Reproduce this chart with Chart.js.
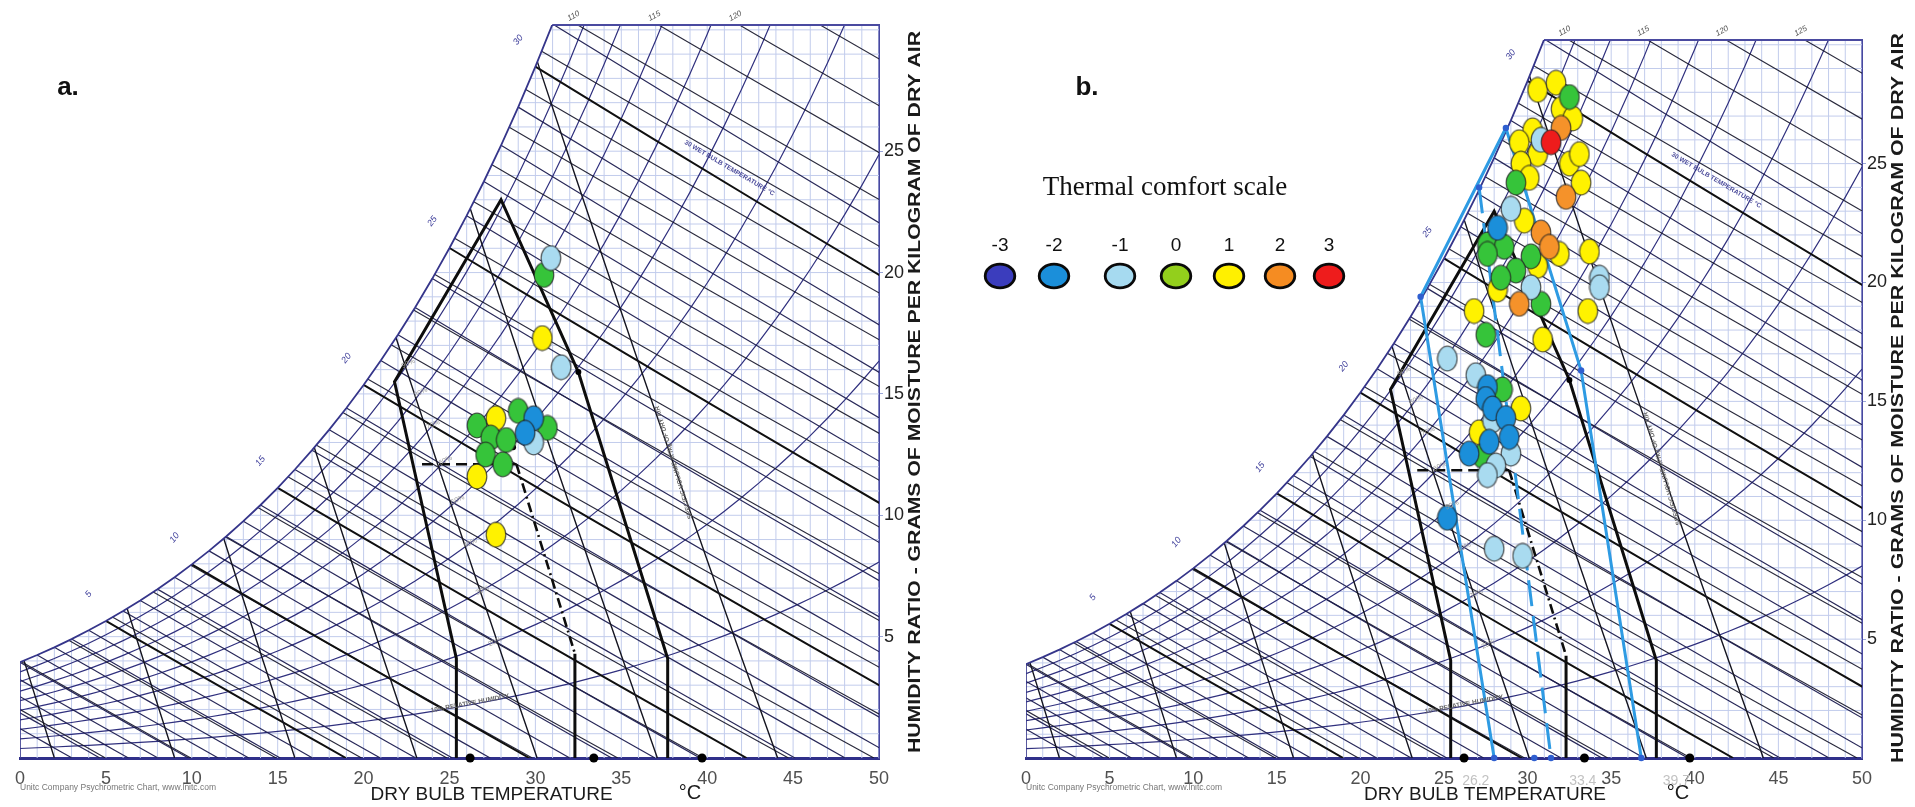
<!DOCTYPE html>
<html><head><meta charset="utf-8">
<script src="https://cdn.jsdelivr.net/npm/chart.js@4.4.1/dist/chart.umd.min.js"></script>
<style>
html,body{margin:0;padding:0;background:#fff;width:1915px;height:807px;overflow:hidden;}
#wa{position:absolute;left:0;top:0;width:957px;height:807px;}
#wb{position:absolute;left:957px;top:0;width:958px;height:807px;}
canvas{display:block}
</style></head><body>
<div id="wa"><canvas id="ca"></canvas></div>
<div id="wb"><canvas id="cb"></canvas></div>
<script>
// ---------------- chart template values ----------------
const PRESSURE_KPA = 97;
const Y_MAX = 30.2;
const xTickValues = [0,5,10,15,20,25,30,35,40,45,50];
const yTickValues = [5,10,15,20,25];
const satTemps = [-8,-7,-6,-5,-4,-3,-2,-1,0,1,2,3,4,5,6,7,8,9,10,11,12,13,14,15,16,17,18,19,20,21,22,23,24,25,26,27,28,29,30,31,32,33,34,35,36,37,38,39,40,41,42,43,44,45,46,47,48,49,50];
const satPressure = [0.3102,0.3376,0.3685,0.4017,0.4375,0.4760,0.5176,0.5626,0.6112,0.6571,0.7060,0.7581,0.8135,0.8726,0.9354,1.0021,1.0730,1.1482,1.2282,1.3129,1.4028,1.4981,1.5989,1.7057,1.8188,1.9383,2.0647,2.1982,2.3392,2.4881,2.6452,2.8109,2.9856,3.1697,3.3637,3.5679,3.7829,4.0092,4.2471,4.4973,4.7603,5.0367,5.3269,5.6317,5.9517,6.2874,6.6397,7.0091,7.3965,7.8026,8.2280,8.6736,9.1402,9.6287,10.140,10.674,11.233,11.816,12.426];
const rhLevels = [10,20,30,40,50,60,70,80,90];
const wetBulbLevels = [-4,-3,-2,-1,0,1,2,3,4,5,6,7,8,9,10,11,12,13,14,15,16,17,18,19,20,21,22,23,24,25,26,27,28,29,30,31];
const wetBulbBold = [5,10,15,20,25,30];
const wetBulbLabels = [5,10,15,20,25,30];
const enthalpyLevels = [5,10,15,20,25,30,35,40,45,50,55,60,65,70,75,80,85,90,95,100,105,110,115,120,125];
const volumeBaseTemps = [2.0,9.0,16.0,23.1,30.1,37.1,44.1];
const gridTemps = [0,1,2,3,4,5,6,7,8,9,10,11,12,13,14,15,16,17,18,19,20,21,22,23,24,25,26,27,28,29,30,31,32,33,34,35,36,37,38,39,40,41,42,43,44,45,46,47,48,49,50];
const gridHumidity = [1,2,3,4,5,6,7,8,9,10,11,12,13,14,15,16,17,18,19,20,21,22,23,24,25,26,27,28,29,30];
const rhLabelLevels = [90,80,70,60,50,40,30,20];
const enthalpyLabelsA = [110,115,120];
const enthalpyLabelsB = [110,115,120,125];

// ---------------- comfort zone overlay (both panels) ----------------
const zoneOuterT = [25.4,25.4,21.8,28.0,32.5,37.7,37.7];
const zoneOuterW = [0,4.1,15.5,23.0,15.9,4.1,0];
const zoneDashT = [23.4,28.9];
const zoneDashW = [12.1,12.1];
const zoneSlantT = [28.9,32.3];
const zoneSlantW = [12.1,4.3];
const zoneFootT = [32.3,32.3];
const zoneFootW = [4.3,0];
const zoneDotsT = [26.2,33.4,39.7];
const zoneDotsW = [0,0,0];
const zoneSmallDotsT = [28.7,32.5];
const zoneSmallDotsW = [12.8,15.9];

// ---------------- panel b blue overlay ----------------
const blueLeftT = [28.0,23.6,28.7];
const blueLeftW = [0,19.4,26.5];
const blueRightT = [28.7,33.2,36.8];
const blueRightW = [26.5,16.3,0];
const blueMidT = [27.1,31.4];
const blueMidW = [24.0,0];
const blueDotsT = [23.6,27.1,28.7,33.2,28.0,30.4,31.4,36.8];
const blueDotsW = [19.4,24.0,26.5,16.3,0,0,0,0];
const limitLabels = ['26.2','33.4','39.7'];
const limitLabelT = [26.9,33.3,38.9];

// ---------------- thermal votes, panel a ----------------
const aColdT = [29.9,29.4];            const aColdW = [14.0,13.4];
const aCoolT = [30.9,31.5,29.9];       const aCoolW = [20.6,16.1,13.0];
const aNeutralT = [30.5,26.6,29.0,30.7,27.4,28.3,27.1,28.1];
const aNeutralW = [19.9,13.7,14.3,13.6,13.2,13.1,12.5,12.1];
const aWarmT = [30.4,27.7,26.6,27.7];  const aWarmW = [17.3,14.0,11.6,9.2];

// ---------------- thermal votes, panel b ----------------
const bColdT = [28.2,27.6,27.5,27.9,28.7,28.9,27.7,26.5,25.2];
const bColdW = [22.3,15.6,15.1,14.7,14.3,13.5,13.3,12.8,10.1];
const bCoolT = [30.8,29.0,30.2,34.3,34.3,25.2,26.9,27.9,29.0,28.1,27.6,28.0,29.7];
const bCoolW = [26.0,23.1,19.8,20.2,19.8,16.8,16.1,14.2,12.8,12.3,11.9,8.8,8.5];
const bNeutralT = [32.5,29.3,27.6,28.6,30.2,27.6,29.3,28.4,30.8,27.5,28.5,27.3];
const bNeutralW = [27.8,24.2,21.6,21.5,21.1,21.2,20.5,20.2,19.1,17.8,15.5,12.7];
const bWarmT = [30.6,31.7,32.0,32.7,30.3,29.5,30.6,32.5,33.1,29.6,30.1,33.2,29.8,31.9,33.7,30.6,28.2,26.8,33.6,30.9,29.6,27.1];
const bWarmW = [28.1,28.4,27.3,26.9,26.4,25.9,25.4,25.0,25.4,25.0,24.4,24.2,22.6,21.2,21.3,20.7,19.7,18.8,18.8,17.6,14.7,13.7];
const bHotT = [32.0,32.3,30.8,31.3,29.5];
const bHotW = [26.5,23.6,22.1,21.5,19.1];
const bVeryHotT = [31.4];
const bVeryHotW = [25.9];

// ---------------- legend ----------------
const legendLabels = ['-3','-2','-1','0','1','2','3'];
const legendColors = ['#3b3dbd','#1b8fda','#a6daf0','#93cf1c','#fff000','#f58c22','#ee1c1c'];
const legendX = [43,97,163,219,272,323,372];

const voteColors = {cold:'#1b8fda', cool:'#a9dbf0', neutral:'#36c43a', warm:'#fff200', hot:'#f5922a', veryhot:'#ee1c1c'};

const SANS = "'Liberation Sans', Arial, sans-serif";
const NARROW = "'Liberation Sans Narrow', 'Arial Narrow', 'Liberation Sans', Arial, sans-serif";
const SERIF = "'Liberation Serif', 'Times New Roman', serif";

// ---------------- helpers ----------------
function satPAt(T){
  const base = Math.floor(T);
  const i = base - satTemps[0];
  const f = T - base;
  const p0 = satPressure[i], p1 = satPressure[Math.min(i+1, satPressure.length-1)];
  return p0 + (p1 - p0) * f;
}
function satWAt(T){ const p = satPAt(T); return 622 * p / (PRESSURE_KPA - p); }
function zip(ts, ws){ return ts.map((t,i)=>({x:t, y:ws[i]})); }
const GAP = {x:NaN, y:NaN};
function lineDS(points, color, width, extra){
  return Object.assign({data:points, showLine:true, borderColor:color, borderWidth:width,
    pointRadius:0, pointHoverRadius:0, pointHitRadius:0, fill:false, tension:0}, extra||{});
}
function satTopT(){
  for (let i=0;i<satTemps.length-1;i++){
    const a = satWAt(satTemps[i]), b = satWAt(satTemps[i+1]);
    if (a <= Y_MAX && b > Y_MAX) return satTemps[i] + (Y_MAX - a)/(b - a);
  }
  return 50;
}

function ellipseImg(fill, w, h, stroke, lw){
  const c = document.createElement('canvas'); c.width = w; c.height = h;
  const g = c.getContext('2d');
  g.beginPath(); g.ellipse(w/2, h/2, w/2 - lw, h/2 - lw, 0, 0, Math.PI*2);
  g.fillStyle = fill; g.fill(); g.lineWidth = lw; g.strokeStyle = stroke; g.stroke();
  return c;
}
function voteDS(ts, ws, color){
  return {data: zip(ts, ws), showLine:false, pointStyle: ellipseImg(color, 22, 27, 'rgba(35,35,35,0.75)', 1.2),
    pointRadius: 10, pointHoverRadius: 10, order: 1};
}

// ---------------- background template datasets ----------------
function backgroundDatasets(){
  const ds = [];
  const gv = [], gh = [];
  gridTemps.forEach(t => { gv.push({x:t,y:0},{x:t,y:Y_MAX+1},GAP); });
  gridHumidity.forEach(w => { gh.push({x:0,y:w},{x:50,y:w},GAP); });
  ds.push(lineDS(gv, '#c2ccec', 1, {order:95, satClip:true}));
  ds.push(lineDS(gh, '#c2ccec', 1, {order:95, satClip:true}));
  const rh = [];
  rhLevels.forEach(r => {
    satTemps.forEach((t,i) => { const pw = r/100*satPressure[i]; rh.push({x:t, y:622*pw/(PRESSURE_KPA-pw)}); });
    rh.push(GAP);
  });
  ds.push(lineDS(rh, '#30307e', 1.2, {order:80, satClip:true}));
  const en = [];
  enthalpyLevels.forEach(h => {
    const T0 = h/1.006;
    for (let k=0;k<=12;k++){
      const T = -10 + (T0+10)*k/12;
      en.push({x:T, y:Math.max(0,(h-1.006*T)/(2501+1.86*T)*1000)});
    }
    en.push(GAP);
  });
  ds.push(lineDS(en, 'rgba(20,20,40,0.9)', 1.15, {order:70, satClip:true}));
  const wbThin = [], wbBold = [];
  wetBulbLevels.forEach(t => {
    const ws = satWAt(t)/1000;
    const T0 = t + (2501-2.326*t)*ws/1.006;
    const arr = wetBulbBold.includes(t) ? wbBold : wbThin;
    for (let k=0;k<=10;k++){
      const T = t + (T0-t)*k/10;
      const W = ((2501-2.326*t)*ws - 1.006*(T-t))/(2501+1.86*T-4.186*t)*1000;
      arr.push({x:T, y:Math.max(0,W)});
    }
    arr.push(GAP);
  });
  ds.push(lineDS(wbThin, 'rgba(30,30,80,0.95)', 1.2, {order:60, satClip:true}));
  ds.push(lineDS(wbBold, '#101010', 2, {order:55, satClip:true}));
  const vol = [];
  volumeBaseTemps.forEach(t0 => {
    for (let w=0; w<=32; w+=4){ vol.push({x:(t0+273.15)/(1+0.0016078*w)-273.15, y:w}); }
    vol.push(GAP);
  });
  ds.push(lineDS(vol, '#151520', 1.4, {order:50, satClip:true}));
  const sat = [];
  satTemps.forEach(t => { if (t >= 0 && t <= 32) sat.push({x:t, y:satWAt(t)}); });
  ds.push(lineDS(sat, '#35358a', 1.8, {order:40}));
  ds.push(lineDS([{x:0,y:0},{x:0,y:satWAt(0)}], '#35358a', 1.6, {order:40}));
  ds.push(lineDS([{x:satTopT(),y:Y_MAX},{x:50,y:Y_MAX}], '#4a4aa0', 2.2, {order:40, clip:4}));
  return ds;
}

function zoneDatasets(){
  const ds = [];
  ds.push(lineDS(zip(zoneOuterT, zoneOuterW), '#0d0d0d', 3, {order:20}));
  ds.push(lineDS(zip(zoneDashT, zoneDashW), '#0d0d0d', 2.6, {order:20, borderDash:[11,6]}));
  ds.push(lineDS(zip(zoneSlantT, zoneSlantW), '#0d0d0d', 2.6, {order:20, borderDash:[10,4,2,4]}));
  ds.push(lineDS(zip(zoneFootT, zoneFootW), '#0d0d0d', 3, {order:20}));
  ds.push({data: zip(zoneDotsT, zoneDotsW), showLine:false, pointRadius:4.5, pointBackgroundColor:'#000', pointBorderWidth:0, order:10, clip:8});
  ds.push({data: zip(zoneSmallDotsT, zoneSmallDotsW), showLine:false, pointRadius:3, pointBackgroundColor:'#000', pointBorderWidth:0, order:10});
  return ds;
}

function blueDatasets(){
  const c = '#2e9be3';
  return [
    lineDS(zip(blueLeftT, blueLeftW), c, 3, {order:15}),
    lineDS(zip(blueRightT, blueRightW), c, 3, {order:15}),
    lineDS(zip(blueMidT, blueMidW), c, 3, {order:15, borderDash:[26,10]}),
    {data: zip(blueDotsT, blueDotsW), showLine:false, pointRadius:3.2, pointBackgroundColor:'#2f5fd0', pointBorderWidth:0, order:9, clip:8}
  ];
}

function datasetsA(){
  return [...backgroundDatasets(), ...zoneDatasets(),
    voteDS(aColdT, aColdW, voteColors.cold),
    voteDS(aCoolT, aCoolW, voteColors.cool),
    voteDS(aNeutralT, aNeutralW, voteColors.neutral),
    voteDS(aWarmT, aWarmW, voteColors.warm)];
}
function datasetsB(){
  return [...backgroundDatasets(), ...zoneDatasets(), ...blueDatasets(),
    voteDS(bVeryHotT, bVeryHotW, voteColors.veryhot),
    voteDS(bHotT, bHotW, voteColors.hot),
    voteDS(bColdT, bColdW, voteColors.cold),
    voteDS(bCoolT, bCoolW, voteColors.cool),
    voteDS(bNeutralT, bNeutralW, voteColors.neutral),
    voteDS(bWarmT, bWarmW, voteColors.warm)];
}

// ---------------- plugins ----------------
const satClipPlugin = {
  id:'satClip',
  beforeDatasetDraw(chart, args){
    const ds = chart.data.datasets[args.index];
    if (!ds.satClip) return;
    const {ctx} = chart; const x = chart.scales.x, y = chart.scales.y;
    ctx.save(); ctx.beginPath();
    ctx.moveTo(x.getPixelForValue(0), y.getPixelForValue(0)+3);
    satTemps.forEach(t => { if (t >= 0 && t <= 32) ctx.lineTo(x.getPixelForValue(t), y.getPixelForValue(satWAt(t))); });
    ctx.lineTo(x.getPixelForValue(50)+3, y.getPixelForValue(satWAt(32)));
    ctx.lineTo(x.getPixelForValue(50)+3, y.getPixelForValue(0)+3);
    ctx.closePath(); ctx.clip();
  },
  afterDatasetDraw(chart, args){
    const ds = chart.data.datasets[args.index];
    if (ds.satClip) chart.ctx.restore();
  }
};

function textAt(ctx, s, px, py, font, color, align, rot){
  ctx.save(); ctx.translate(px, py); if (rot) ctx.rotate(rot);
  ctx.font = font; ctx.fillStyle = color; ctx.textAlign = align || 'center'; ctx.textBaseline = 'middle';
  ctx.fillText(s, 0, 0); ctx.restore();
}
function textAlong(chart, s, t1, w1, t2, w2, font, color, off){
  const x = chart.scales.x, y = chart.scales.y;
  const x1 = x.getPixelForValue(t1), y1 = y.getPixelForValue(w1), x2 = x.getPixelForValue(t2), y2 = y.getPixelForValue(w2);
  const ang = Math.atan2(y2-y1, x2-x1);
  const mx = (x1+x2)/2 - Math.sin(ang)*(off||0), my = (y1+y2)/2 + Math.cos(ang)*(off||0);
  textAt(chart.ctx, s, mx, my, font, color, 'center', ang);
}

const decorPlugin = {
  id:'decor',
  afterDraw(chart, args, opts){
    const panel = opts.panel;
    const ctx = chart.ctx; const x = chart.scales.x, y = chart.scales.y;
    const area = chart.chartArea;
    const navy = '#3b3b99';
    wetBulbLabels.forEach(t => {
      textAt(ctx, String(t), x.getPixelForValue(t-1.0), y.getPixelForValue(satWAt(t)+1.1), 'italic 9px '+SANS, navy, 'center', -0.9);
    });
    const enth = panel === 'a' ? enthalpyLabelsA : enthalpyLabelsB;
    enth.forEach(h => {
      const T = (h - Y_MAX*2.501)/(1.006 + Y_MAX*0.00186);
      textAt(ctx, String(h), x.getPixelForValue(T) - 4, area.top - 9, 'italic 8px '+SANS, '#555', 'center', -0.5);
    });
    textAlong(chart, '30 WET BULB TEMPERATURE \u00b0C', 38.5, 25.8, 44.5, 23.3, 'bold 6.5px '+SANS, '#4a4a9a', 7);
    textAlong(chart, 'SPECIFIC VOLUME m\u00b3/kg OF DRY AIR', 40.2, 8.0, 36.6, 16.5, 'bold 6.5px '+SANS, '#666', -6);
    textAlong(chart, '10% RELATIVE HUMIDITY', 22.5, 1.55, 30.0, 2.55, 'bold 6.5px '+SANS, '#666', -5);
    rhLabelLevels.forEach((r, k) => {
      const T = 22.6 + k*0.72;
      const pw = r/100*satPAt(T);
      textAt(ctx, r+'%', x.getPixelForValue(T), y.getPixelForValue(622*pw/(PRESSURE_KPA-pw)), '7px '+SANS, '#9a9a9a', 'center', -0.45);
    });
    textAt(ctx, 'DRY BULB TEMPERATURE', x.getPixelForValue(27.45), 795, '19px '+SANS, '#1a1a1a', 'center');
    textAt(ctx, '\u00b0C', x.getPixelForValue(39.0), 793, '20px '+SANS, '#1a1a1a', 'center');
    textAt(ctx, 'Unitc Company Psychrometric Chart, www.lnitc.com', area.left, 788, '8.5px '+SANS, '#777', 'left');
    const yt = 'HUMIDITY RATIO - GRAMS OF MOISTURE PER KILOGRAM OF DRY AIR';
    ctx.save();
    const cx = panel === 'a' ? 916 : 942, cy = panel === 'a' ? 392 : 398, len = panel === 'a' ? 722 : 730;
    ctx.translate(cx, cy); ctx.rotate(-Math.PI/2);
    ctx.font = 'bold 16px '+SANS;
    const wdt = ctx.measureText(yt).width;
    ctx.scale(len/wdt, 1);
    ctx.fillStyle = '#1a1a1a'; ctx.textAlign = 'center'; ctx.textBaseline = 'middle';
    ctx.fillText(yt, 0, 0);
    ctx.restore();
    textAt(ctx, panel + '.', panel === 'a' ? 68 : 130, 88, 'bold 26px '+SANS, '#111', 'center');
    if (panel === 'b'){
      limitLabels.forEach((s,i) => textAt(ctx, s, x.getPixelForValue(limitLabelT[i]), 781, '14px '+NARROW, '#c2c2c2', 'center'));
      textAt(ctx, 'Thermal comfort scale', 208, 188, '27px '+SERIF, '#111', 'center');
      legendLabels.forEach((s,i) => {
        textAt(ctx, s, legendX[i], 246, '19px '+SANS, '#111', 'center');
        ctx.save(); ctx.beginPath(); ctx.ellipse(legendX[i], 276, 14.8, 11.8, 0, 0, Math.PI*2);
        ctx.fillStyle = legendColors[i]; ctx.fill(); ctx.lineWidth = 2.8; ctx.strokeStyle = '#0a0a0a'; ctx.stroke(); ctx.restore();
      });
    }
  }
};

function makeChart(id, panel){
  const yWidth = panel === 'a' ? 78 : 53;
  return new Chart(document.getElementById(id), {
    type:'scatter',
    data:{datasets: panel === 'a' ? datasetsA() : datasetsB()},
    options:{
      responsive:true, maintainAspectRatio:false, animation:false, devicePixelRatio:1, events:[],
      layout:{padding: panel === 'a' ? {left:20, top:25, right:0, bottom:0} : {left:69, top:40, right:0, bottom:0}},
      plugins:{legend:{display:false}, tooltip:{enabled:false}, decor:{panel}},
      scales:{
        x:{type:'linear', position:'bottom', min:0, max:50,
          afterBuildTicks: ax => { ax.ticks = xTickValues.map(v => ({value:v})); },
          ticks:{font:{family:NARROW, size:18}, color:'#505050', padding:2, maxRotation:0, autoSkip:false},
          grid:{display:false}, border:{display:true, color:'#30308a', width:3},
          afterFit: s => { s.height = 49; }},
        y:{type:'linear', position:'right', min:0, max:Y_MAX,
          afterBuildTicks: ax => { ax.ticks = yTickValues.map(v => ({value:v})); },
          ticks:{font:{family:SANS, size:18}, color:'#222', padding:1, autoSkip:false},
          grid:{display:true, drawOnChartArea:false, drawTicks:true, tickLength:4, color:'#9aa6d8'},
          border:{display:true, color:'#4848a0', width:2},
          afterFit: s => { s.width = yWidth; }}
      }
    },
    plugins:[satClipPlugin, decorPlugin]
  });
}
makeChart('ca','a');
makeChart('cb','b');
</script>
</body></html>
